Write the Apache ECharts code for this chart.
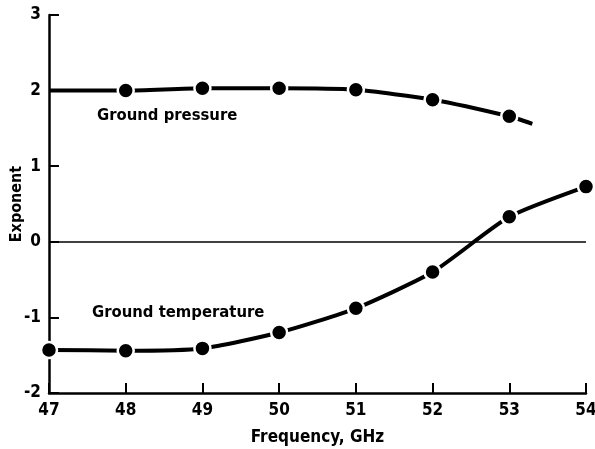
<!DOCTYPE html>
<html>
<head>
<meta charset="utf-8">
<script src="https://cdn.jsdelivr.net/npm/echarts@6/dist/echarts.min.js"></script>
<style>
  html, body { margin: 0; padding: 0; background: #fff; }
  #chart { width: 595px; height: 449px; }
</style>
</head>
<body>
<div id="chart"></div>
<script>
// Frequency (GHz) and exponent values for the two curves
const pressureFreq = [47, 48, 49, 50, 51, 52, 53, 53.3];
const pressureExp = [2.0, 2.0, 2.03, 2.03, 2.01, 1.88, 1.66, 1.56];
const pressureMarked = [false, true, true, true, true, true, true, false];

const temperatureFreq = [47, 48, 49, 50, 51, 52, 53, 54];
const temperatureExp = [-1.43, -1.44, -1.41, -1.2, -0.88, -0.4, 0.33, 0.73];

const xTicks = [47, 48, 49, 50, 51, 52, 53, 54];
const yTicks = [-2, -1, 0, 1, 2, 3];

const FONT = '"DejaVu Sans Condensed", "DejaVu Sans", sans-serif';

function buildPoints(xs, ys, marked) {
  return xs.map((x, i) => {
    const p = { value: [x, ys[i]] };
    if (marked && !marked[i]) p.symbol = 'none';
    return p;
  });
}

const chart = echarts.init(document.getElementById('chart'), null, { renderer: 'canvas' });

const lineSeries = (name, data) => ({
  name,
  type: 'line',
  data,
  smooth: 0.2,
  symbol: 'circle',
  symbolSize: 16,
  lineStyle: { color: '#000', width: 4 },
  itemStyle: { color: '#000', borderColor: '#fff', borderWidth: 2.5 },
  emphasis: { disabled: true },
  z: 3
});

const axisCommon = {
  axisLine: { show: true, onZero: false, lineStyle: { color: '#000', width: 2.5 } },
  axisTick: { show: true, inside: true, length: 10, lineStyle: { color: '#000', width: 2 } },
  axisLabel: { fontFamily: FONT, fontSize: 17, fontWeight: 'bold', color: '#000' },
  splitLine: { show: false }
};

chart.setOption({
  animation: false,
  backgroundColor: '#fff',
  grid: { left: 49, right: 9, top: 15, bottom: 56, containLabel: false, outerBoundsMode: 'none' },
  xAxis: Object.assign({}, axisCommon, {
    type: 'value',
    min: xTicks[0],
    max: xTicks[xTicks.length - 1],
    interval: 1,
    name: 'Frequency, GHz',
    nameLocation: 'middle',
    nameGap: 36,
    nameMoveOverlap: false,
    nameTextStyle: { fontFamily: FONT, fontSize: 17, fontWeight: 'bold', color: '#000' },
    axisLabel: Object.assign({}, axisCommon.axisLabel, { margin: 9 })
  }),
  yAxis: Object.assign({}, axisCommon, {
    type: 'value',
    min: yTicks[0],
    max: yTicks[yTicks.length - 1],
    interval: 1,
    name: 'Exponent',
    nameLocation: 'middle',
    nameGap: 24,
    nameMoveOverlap: false,
    nameRotate: 90,
    nameTextStyle: { fontFamily: FONT, fontSize: 16, fontWeight: 'bold', color: '#000' },
    axisLabel: Object.assign({}, axisCommon.axisLabel, { margin: 8 })
  }),
  series: [
    lineSeries('Ground pressure', buildPoints(pressureFreq, pressureExp, pressureMarked)),
    Object.assign(lineSeries('Ground temperature', buildPoints(temperatureFreq, temperatureExp)), {
      markLine: {
        silent: true,
        symbol: 'none',
        label: { show: false },
        lineStyle: { color: '#000', width: 1.5, type: 'solid' },
        data: [{ yAxis: 0 }]
      }
    })
  ],
  graphic: [
    {
      type: 'text', left: 97, top: 107,
      style: { text: 'Ground pressure', font: 'bold 16.5px ' + FONT, fill: '#000' }
    },
    {
      type: 'text', left: 92, top: 304,
      style: { text: 'Ground temperature', font: 'bold 16.5px ' + FONT, fill: '#000' }
    }
  ]
});
</script>
</body>
</html>
